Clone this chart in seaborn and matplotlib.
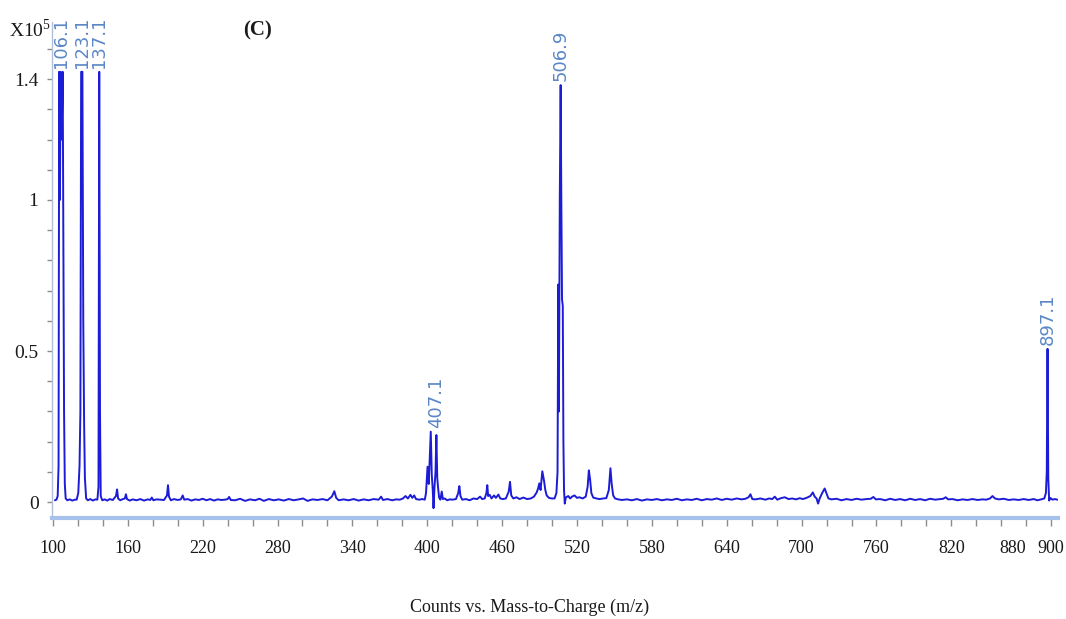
import pandas as pd
import matplotlib
matplotlib.use('Agg')
import matplotlib.pyplot as plt
import seaborn as sns
import numpy as np

# spectrum (m/z, counts in units of 1e5)
mz = [101.6, 102.8, 103.8, 104.5, 105.0, 105.6, 106.1, 107.0, 107.8, 108.4, 108.9, 109.5, 110.2, 111.5,
      113.5, 115.5, 117.5, 119.0, 120.3, 121.3, 122.0, 122.6, 123.6, 124.3, 125.0, 125.6, 126.6, 128.0,
      130.0, 132.0, 134.0, 135.6, 136.5, 137.1, 137.7, 138.3, 139.5, 141.5, 143.5, 145.5, 148.0, 150.5,
      151.4, 152.2, 154.0, 156.0, 157.6, 158.5, 159.3, 161.5, 164.0, 167.0, 170.0, 173.0, 176.0, 178.0,
      179.2, 180.5, 183.0, 186.0, 189.0, 191.4, 192.2, 193.0, 194.5, 197.0, 200.0, 202.5, 204.0, 205.2,
      208.0, 211.0, 214.0, 217.0, 220.0, 223.0, 226.0, 229.0, 232.0, 235.0, 238.0, 240.0, 241.2, 242.5,
      246.0, 250.0, 254.0, 258.0, 262.0, 265.5, 269.0, 273.0, 277.0, 281.0, 285.0, 289.0, 293.0, 297.0,
      300.5, 304.0, 308.0, 312.0, 316.0, 320.0, 323.5, 325.5, 327.0, 329.0, 333.0, 337.0, 341.0, 345.0,
      349.0, 353.0, 357.0, 361.0, 363.0, 364.5, 368.0, 372.0, 375.0, 378.0, 380.5, 382.5, 384.5, 386.5,
      388.0, 389.5, 391.0, 393.5, 396.0, 398.0, 399.0, 400.2, 401.2, 402.8, 403.6, 404.4, 405.0, 405.8,
      406.6, 407.3, 408.0, 408.6, 409.5, 410.5, 411.6, 412.5, 414.0, 416.0, 418.0, 420.0, 423.0, 424.8,
      425.7, 426.6, 428.0, 431.0, 434.0, 437.0, 440.0, 442.3, 444.0, 446.0, 447.4, 448.1, 448.8, 450.0,
      451.5, 453.5, 455.0, 457.0, 458.5, 460.5, 463.0, 465.3, 466.3, 467.3, 469.0, 471.5, 474.0, 477.0,
      480.0, 483.0, 485.5, 487.7, 488.8, 489.8, 490.8, 492.2, 493.6, 494.6, 495.7, 497.5, 499.7, 502.0,
      503.5, 504.4, 505.0, 505.5, 506.2, 506.9, 507.4, 508.0, 508.6, 509.1, 509.6, 510.2, 511.0, 513.0,
      514.5, 516.0, 518.0, 520.0, 522.0, 524.5, 527.0, 528.5, 529.5, 530.5, 531.5, 533.0, 535.5, 538.0,
      541.0, 543.5, 545.5, 546.8, 547.8, 549.0, 550.5, 553.0, 556.0, 560.0, 564.0, 568.0, 572.0, 576.0,
      580.0, 584.0, 588.0, 592.0, 596.0, 600.0, 604.0, 608.0, 612.0, 616.0, 620.0, 624.0, 628.0, 632.0,
      636.0, 640.0, 644.0, 648.0, 652.0, 655.0, 657.5, 659.0, 660.5, 663.0, 667.0, 671.0, 674.0, 676.5,
      678.5, 680.5, 683.5, 686.5, 689.5, 692.5, 695.5, 698.5, 701.0, 704.0, 707.0, 709.0, 710.5, 712.0,
      713.2, 714.5, 716.5, 718.5, 720.0, 721.5, 724.0, 728.0, 732.0, 736.0, 740.0, 744.0, 748.0, 752.0,
      755.5, 757.5, 759.5, 763.0, 767.0, 771.0, 775.0, 779.0, 783.0, 787.0, 791.0, 795.0, 799.0, 803.0,
      807.0, 811.0, 813.5, 815.5, 817.5, 821.0, 825.0, 829.0, 833.0, 837.0, 841.0, 845.0, 848.0, 851.0,
      853.0, 855.0, 858.0, 862.0, 866.0, 870.0, 874.0, 878.0, 882.0, 886.0, 889.0, 892.0, 894.5, 895.8,
      896.5, 897.1, 897.7, 898.4, 899.3, 901.0, 903.0, 905.0]

counts = [0.006, 0.008, 0.020, 0.120, 1.424, 1.000, 1.424, 1.200, 1.424, 0.850, 0.300, 0.060, 0.012, 0.006,
          0.009, 0.005, 0.008, 0.008, 0.030, 0.120, 0.300, 1.424, 1.424, 0.600, 0.255, 0.080, 0.012, 0.006,
          0.010, 0.005, 0.009, 0.008, 0.050, 1.424, 0.300, 0.020, 0.006, 0.009, 0.005, 0.010, 0.007, 0.020,
          0.042, 0.012, 0.006, 0.010, 0.012, 0.026, 0.010, 0.005, 0.009, 0.006, 0.010, 0.005, 0.009, 0.007,
          0.015, 0.006, 0.009, 0.008, 0.007, 0.022, 0.056, 0.018, 0.006, 0.010, 0.007, 0.009, 0.022, 0.008,
          0.010, 0.005, 0.009, 0.007, 0.011, 0.006, 0.010, 0.005, 0.009, 0.007, 0.008, 0.010, 0.017, 0.007,
          0.006, 0.011, 0.004, 0.009, 0.006, 0.011, 0.004, 0.010, 0.006, 0.009, 0.005, 0.010, 0.006, 0.009,
          0.012, 0.004, 0.009, 0.007, 0.010, 0.006, 0.018, 0.036, 0.014, 0.006, 0.009, 0.006, 0.010, 0.005,
          0.009, 0.006, 0.010, 0.008, 0.018, 0.007, 0.010, 0.006, 0.009, 0.008, 0.012, 0.020, 0.012, 0.024,
          0.014, 0.022, 0.010, 0.008, 0.010, 0.008, 0.030, 0.117, 0.060, 0.233, 0.090, 0.040, -0.020, 0.050,
          0.100, 0.222, 0.080, 0.050, 0.015, 0.008, 0.035, 0.010, 0.012, 0.006, 0.009, 0.008, 0.010, 0.030,
          0.053, 0.020, 0.008, 0.010, 0.006, 0.012, 0.010, 0.018, 0.010, 0.012, 0.030, 0.056, 0.020, 0.024,
          0.012, 0.022, 0.014, 0.025, 0.012, 0.010, 0.012, 0.035, 0.067, 0.022, 0.012, 0.016, 0.010, 0.015,
          0.010, 0.012, 0.018, 0.032, 0.045, 0.062, 0.040, 0.102, 0.070, 0.040, 0.022, 0.014, 0.012, 0.012,
          0.030, 0.100, 0.720, 0.300, 1.000, 1.380, 1.020, 0.670, 0.650, 0.200, 0.040, -0.005, 0.015, 0.020,
          0.012, 0.018, 0.022, 0.014, 0.016, 0.012, 0.018, 0.050, 0.105, 0.075, 0.030, 0.015, 0.012, 0.010,
          0.012, 0.013, 0.040, 0.112, 0.060, 0.022, 0.012, 0.009, 0.007, 0.009, 0.006, 0.010, 0.005, 0.009,
          0.007, 0.010, 0.006, 0.009, 0.007, 0.011, 0.006, 0.009, 0.007, 0.011, 0.006, 0.010, 0.008, 0.012,
          0.007, 0.011, 0.008, 0.012, 0.009, 0.011, 0.016, 0.026, 0.010, 0.009, 0.012, 0.008, 0.012, 0.010,
          0.018, 0.008, 0.013, 0.016, 0.010, 0.012, 0.009, 0.013, 0.010, 0.014, 0.020, 0.032, 0.018, 0.012,
          -0.005, 0.012, 0.030, 0.045, 0.028, 0.012, 0.009, 0.011, 0.006, 0.010, 0.007, 0.011, 0.008, 0.010,
          0.011, 0.017, 0.009, 0.010, 0.006, 0.011, 0.007, 0.010, 0.006, 0.011, 0.007, 0.010, 0.006, 0.011,
          0.008, 0.010, 0.011, 0.016, 0.009, 0.010, 0.006, 0.009, 0.007, 0.010, 0.007, 0.009, 0.008, 0.012,
          0.020, 0.012, 0.009, 0.011, 0.007, 0.009, 0.007, 0.010, 0.007, 0.010, 0.006, 0.009, 0.012, 0.030,
          0.100, 0.507, 0.080, 0.005, 0.014, 0.008, 0.010, 0.008]

# annotated peaks
peak_labels = ['106.1', '123.1', '137.1', '407.1', '506.9', '897.1']
label_mz = [106.1, 123.1, 137.1, 407.1, 506.9, 897.1]
label_counts = [1.424, 1.424, 1.424, 0.233, 1.38, 0.507]

xtick_labels = ['100', '160', '220', '280', '340', '400', '460', '520', '580',
                '640', '700', '760', '820', '880', '900']
ytick_major = [0, 0.5, 1, 1.4]

df = pd.DataFrame({'mz': mz, 'counts': counts})

sns.set_theme(style='white')
plt.rcParams['font.family'] = ['Liberation Serif', 'DejaVu Serif']

fig = plt.figure(figsize=(10.66, 6.19), dpi=100)
ax = fig.add_axes([0.0485, 0.163, 0.944, 0.8015])

sns.lineplot(data=df, x='mz', y='counts', ax=ax, color='#1c1cd6', linewidth=1.4,
             estimator=None, sort=False)

ax.set_xlim(99, 905.5)
ax.set_ylim(-0.053, 1.589)

# x ticks every 20, labels only at the printed ones
xt = np.arange(100, 901, 20)
ax.set_xticks(xt)
ax.set_xticklabels([str(v) if str(v) in xtick_labels else '' for v in xt], fontsize=13)
for lbl in ax.get_xticklabels():
    if lbl.get_text() == '880':
        lbl.set_ha('right')

ax.set_yticks(ytick_major)
ax.set_yticklabels(['0', '0.5', '1', '1.4'], fontsize=14)
ax.set_yticks([v / 10 for v in range(1, 16) if v not in (5, 10, 14)], minor=True)

ax.tick_params(axis='x', direction='out', length=6, width=1, color='#8c8c8c', pad=10,
               labelcolor='#1a1a1a', bottom=True)
ax.tick_params(axis='y', which='both', direction='out', length=3.5, width=1, color='#8c8c8c',
               pad=6, labelcolor='#1a1a1a', left=True)

for s in ['top', 'right']:
    ax.spines[s].set_visible(False)
ax.spines['left'].set_color('#b3bfd9')
ax.spines['left'].set_linewidth(1)
ax.spines['bottom'].set_color('#a6c1ec')
ax.spines['bottom'].set_linewidth(3)

ax.set_xlabel('')
ax.set_ylabel('')

for lab, x, y in zip(peak_labels, label_mz, label_counts):
    ax.annotate(lab, xy=(x, y), xytext=(0, 3), textcoords='offset points', rotation=90,
                ha='center', va='bottom', color='#5b87c6', fontsize=13,
                family='DejaVu Sans', annotation_clip=False)

fig.text(9 / 1066, 1 - 30 / 619, r'X10$^{\mathregular{5}}$', ha='left', va='center',
         fontsize=14, color='#1a1a1a')
fig.text(258 / 1066, 1 - 30 / 619, '(C)', ha='center', va='center', fontsize=15,
         fontweight='bold', color='#1a1a1a')
fig.text(530 / 1066, 1 - 607 / 619, 'Counts vs. Mass-to-Charge (m/z)', ha='center',
         va='center', fontsize=13, color='#1a1a1a')

fig.savefig('out.png', dpi=100)
